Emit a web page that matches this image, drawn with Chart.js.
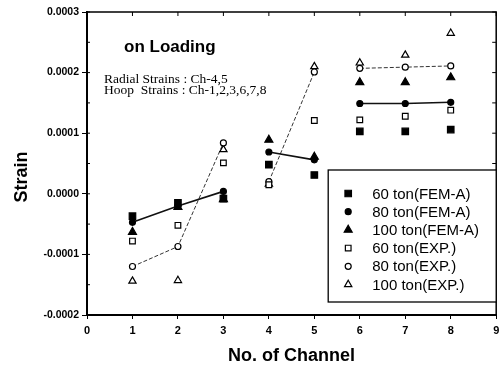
<!DOCTYPE html>
<html>
<head>
<meta charset="utf-8">
<script src="https://cdn.jsdelivr.net/npm/chart.js@4/dist/chart.umd.min.js"></script>
<style>
  html, body { margin: 0; padding: 0; background: #fff; }
</style>
</head>
<body>
<canvas id="strain-chart" width="502" height="370"></canvas>
<script>
// channel numbers and the strain for each load case
const channels = [1, 2, 3, 4, 5, 6, 7, 8];
const fem60 = [-0.000037, -0.000015, -0.000008, 0.000048, 0.000031, 0.000103, 0.000103, 0.000106];
const fem80 = [-0.000047, -0.000020, 0.000004, 0.000069, 0.000056, 0.000149, 0.000149, 0.000151];
const fem100 = [-0.000063, -0.000022, -0.000009, 0.000089, 0.000061, 0.000184, 0.000184, 0.000192];
const exp60 = [-0.000078, -0.000052, 0.000051, 0.000015, 0.000121, 0.000122, 0.000128, 0.000138];
const exp80 = [-0.000120, -0.000087, 0.000084, 0.000020, 0.000201, 0.000207, 0.000209, 0.000211];
const exp100 = [-0.000144, -0.000143, 0.000073, 0.000016, 0.000210, 0.000216, 0.000229, 0.000265];

// channels joined by the 80 ton lines
const chanGroups = [[1, 2, 3], [4, 5], [6, 7, 8]];

const seriesNames = ['60 ton(FEM-A)', '80 ton(FEM-A)', '100 ton(FEM-A)', '60 ton(EXP.)', '80 ton(EXP.)', '100 ton(EXP.)'];
const xRange = [0, 9];
const yRange = [-0.0002, 0.0003];
const yStep = 0.0001;

const titleText = 'on Loading';
const noteLines = ['Radial Strains : Ch-4,5', 'Hoop  Strains : Ch-1,2,3,6,7,8'];

const FONT = "'Liberation Sans', Arial, sans-serif";

const toPoints = (values) => channels.map((ch, i) => ({ x: ch, y: values[i] }));

// points per group, with a null between groups so the line breaks
const toGroupLine = (values) => {
  const pts = [];
  chanGroups.forEach((group, gi) => {
    if (gi > 0) pts.push({ x: group[0] - 0.5, y: null });
    group.forEach((ch) => pts.push({ x: ch, y: values[channels.indexOf(ch)] }));
  });
  return pts;
};

const markerSpecs = [
  { style: 'rect', radius: 4.6, fill: '#000' },
  { style: 'circle', radius: 3, fill: '#000' },
  { style: 'triangle', radius: 4.6, fill: '#000' },
  { style: 'rect', radius: 4, fill: '#fff' },
  { style: 'circle', radius: 3, fill: '#fff' },
  { style: 'triangle', radius: 4.2, fill: '#fff' }
];

const seriesValues = [fem60, fem80, fem100, exp60, exp80, exp100];

const pointSets = seriesValues.map((values, i) => ({
  label: seriesNames[i],
  data: toPoints(values),
  showLine: false,
  pointStyle: markerSpecs[i].style,
  pointRadius: markerSpecs[i].radius,
  pointHoverRadius: markerSpecs[i].radius,
  pointBackgroundColor: markerSpecs[i].fill,
  pointBorderColor: '#000',
  pointBorderWidth: 1.2
}));

const lineSets = [
  {
    label: '80 ton(FEM-A) line',
    data: toGroupLine(fem80),
    showLine: true,
    spanGaps: false,
    borderColor: '#111',
    borderWidth: 1.6,
    pointRadius: 0
  },
  {
    label: '80 ton(EXP.) line',
    data: toGroupLine(exp80),
    showLine: true,
    spanGaps: false,
    borderColor: '#333',
    borderWidth: 1,
    borderDash: [4, 2],
    pointRadius: 0
  }
];

const fmtStrain = (v) => (Math.round(v * 1e4) / 1e4).toFixed(4);

// top/right frame with inward ticks, minor ticks on the left axis
const framePlugin = {
  id: 'frame',
  afterDatasetsDraw(chart) {
    const { ctx, chartArea: a, scales: { x, y } } = chart;
    ctx.save();
    ctx.strokeStyle = '#000';
    ctx.lineWidth = 1.5;
    ctx.beginPath();
    ctx.moveTo(a.left, a.top);
    ctx.lineTo(a.right, a.top);
    ctx.lineTo(a.right, a.bottom);
    ctx.stroke();
    ctx.lineWidth = 1;
    ctx.beginPath();
    x.ticks.forEach((t) => {
      const px = x.getPixelForValue(t.value);
      ctx.moveTo(px, a.top);
      ctx.lineTo(px, a.top + 4);
    });
    for (let v = yRange[0]; v <= yRange[1] + 1e-9; v += yStep / 2) {
      const py = y.getPixelForValue(v);
      ctx.moveTo(a.right, py);
      ctx.lineTo(a.right - 4, py);
      ctx.moveTo(a.left, py);
      ctx.lineTo(a.left + 3, py);
    }
    ctx.stroke();
    ctx.restore();
  }
};

// the note lines are a bit wider than plain Times at this size
const NOTE_STRETCH = 1.08;

const notesPlugin = {
  id: 'notes',
  afterDatasetsDraw(chart) {
    const { ctx, chartArea: a } = chart;
    ctx.save();
    ctx.fillStyle = '#000';
    ctx.textBaseline = 'middle';
    ctx.textAlign = 'left';
    ctx.font = `bold 17px ${FONT}`;
    ctx.fillText(titleText, a.left + 37, a.top + 35);
    ctx.font = "12.5px 'Liberation Serif', 'Times New Roman', serif";
    noteLines.forEach((line, i) => {
      ctx.save();
      ctx.translate(a.left + 17, a.top + 68 + i * 11);
      ctx.scale(NOTE_STRETCH, 1);
      ctx.fillText(line, 0, 0);
      ctx.restore();
    });
    // y axis title
    ctx.font = `bold 18px ${FONT}`;
    ctx.textAlign = 'center';
    ctx.translate(22, 177);
    ctx.rotate(-Math.PI / 2);
    ctx.fillText('Strain', 0, 0);
    ctx.restore();
  }
};

// boxed legend sitting in the lower right of the plot
const legendBoxPlugin = {
  id: 'legendBox',
  afterDraw(chart) {
    const { ctx, chartArea: a } = chart;
    const w = 168, h = 132;
    const left = a.right - w, top = a.bottom - 13 - h;
    ctx.save();
    ctx.fillStyle = '#fff';
    ctx.fillRect(left, top, w, h);
    ctx.strokeStyle = '#000';
    ctx.lineWidth = 1.3;
    ctx.strokeRect(left, top, w, h);
    ctx.font = `15px ${FONT}`;
    ctx.textBaseline = 'middle';
    ctx.textAlign = 'left';
    seriesNames.forEach((name, i) => {
      const cy = top + 23.5 + i * 18.2;
      const m = markerSpecs[i];
      ctx.fillStyle = m.fill;
      ctx.strokeStyle = '#000';
      ctx.lineWidth = 1.2;
      Chart.helpers.drawPoint(ctx, { pointStyle: m.style, radius: m.radius, borderWidth: 1.2, rotation: 0 }, left + 20, cy);
      ctx.fillStyle = '#000';
      ctx.fillText(name, left + 44, cy + 1);
    });
    ctx.restore();
  }
};

// the figure lets the last x label run off the edge, so no room is kept for it
const noSidePadding = () => ({ left: 0, top: 0, right: 0, bottom: 0 });

new Chart(document.getElementById('strain-chart').getContext('2d'), {
  type: 'scatter',
  data: { datasets: [...pointSets, ...lineSets] },
  options: {
    responsive: false,
    animation: false,
    devicePixelRatio: 1,
    layout: { padding: { left: 0, top: 12, right: 3, bottom: 0 } },
    plugins: {
      legend: { display: false },
      tooltip: { enabled: false }
    },
    scales: {
      x: {
        type: 'linear',
        min: xRange[0],
        max: xRange[1],
        afterFit: (scale) => {
          scale.height = 55;
          scale.paddingLeft = 0;
          scale.paddingRight = 0;
          scale.getPadding = noSidePadding;
        },
        ticks: {
          stepSize: 1,
          color: '#000',
          padding: 5,
          font: { family: FONT, size: 11, weight: 'bold' }
        },
        grid: { drawOnChartArea: false, color: '#000', tickLength: 4 },
        border: { color: '#000', width: 2 },
        title: {
          display: true,
          text: 'No. of Channel',
          color: '#000',
          font: { family: FONT, size: 18, weight: 'bold' },
          padding: { top: 0, bottom: 3 }
        }
      },
      y: {
        min: yRange[0],
        max: yRange[1],
        afterFit: (scale) => {
          scale.width = 87;
          scale.paddingTop = 0;
          scale.paddingBottom = 0;
          scale.getPadding = noSidePadding;
        },
        ticks: {
          stepSize: yStep,
          color: '#000',
          padding: 3,
          font: { family: FONT, size: 10.5, weight: 'bold' },
          callback: (v) => fmtStrain(v)
        },
        grid: { drawOnChartArea: false, color: '#000', tickLength: 5 },
        border: { color: '#000', width: 2 }
      }
    }
  },
  plugins: [framePlugin, notesPlugin, legendBoxPlugin]
});
</script>
</body>
</html>
